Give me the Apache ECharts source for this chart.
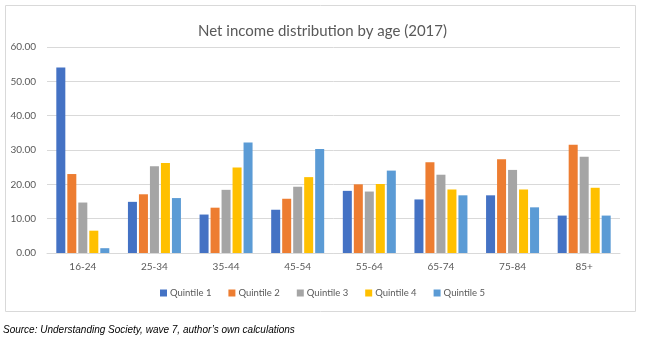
<!DOCTYPE html>
<html><head><meta charset="utf-8">
<script src="https://cdn.jsdelivr.net/npm/echarts@6/dist/echarts.min.js"></script>
<style>html,body{margin:0;padding:0;background:#fff}#c{width:645px;height:343px}</style>
</head><body><div id="c"></div>
<script>
const categories = ['16-24','25-34','35-44','45-54','55-64','65-74','75-84','85+'];
const quintile1 = [54.0, 14.9, 11.2, 12.6, 18.1, 15.6, 16.8, 10.9];
const quintile2 = [23.0, 17.1, 13.2, 15.8, 20.0, 26.4, 27.3, 31.5];
const quintile3 = [14.7, 25.3, 18.4, 19.3, 17.9, 22.8, 24.2, 28.0];
const quintile4 = [6.5, 26.2, 24.9, 22.1, 20.1, 18.5, 18.5, 19.0];
const quintile5 = [1.4, 16.0, 32.2, 30.3, 24.0, 16.8, 13.3, 10.9];
const seriesNames = ['Quintile 1','Quintile 2','Quintile 3','Quintile 4','Quintile 5'];
const seriesData = [quintile1, quintile2, quintile3, quintile4, quintile5];
const colors = ['#4472C4','#ED7D31','#A5A5A5','#FFC000','#5B9BD5'];
const titleText = 'Net income distribution by age (2017)';
const sourceText = 'Source: Understanding Society, wave 7, author\u2019s own calculations';

const FONT = 'Lato';
const chart = echarts.init(document.getElementById('c'));
chart.setOption({
  animation: false,
  color: colors,
  title: {
    text: titleText, left: 'center', top: 19,
    textStyle: {fontFamily: FONT, fontSize: 15, fontWeight: 'normal', color: '#595959'}
  },
  graphic: [
    {type: 'rect', left: 3, top: 3, shape: {width: 630, height: 306},
     style: {fill: 'none', stroke: '#D9D9D9', lineWidth: 1}, z: -1},
    {type: 'text', left: 3, top: 325,
     style: {text: sourceText, font: 'italic 10px "Liberation Sans"', fill: '#000'}}
  ],
  legend: {
    bottom: 40, left: 'center', itemWidth: 7, itemHeight: 7, itemGap: 17,
    icon: 'rect',
    textStyle: {fontFamily: FONT, fontSize: 9.5, color: '#595959', padding: [0, 0, 0, -2]},
    data: seriesNames
  },
  grid: {left: 47, right: 25, top: 47, bottom: 90},
  xAxis: {
    type: 'category', data: categories,
    axisLine: {lineStyle: {color: '#D9D9D9'}},
    axisTick: {show: false},
    axisLabel: {fontFamily: FONT, fontSize: 10, color: '#595959', margin: 9}
  },
  yAxis: {
    type: 'value', min: 0, max: 60, interval: 10,
    axisLine: {show: false}, axisTick: {show: false},
    splitLine: {lineStyle: {color: '#D9D9D9'}},
    axisLabel: {fontFamily: FONT, fontSize: 10, color: '#595959', margin: 11,
      formatter: v => v.toFixed(2)}
  },
  series: seriesData.map((d, i) => ({
    name: seriesNames[i], type: 'bar', data: d,
    barGap: '22%', barCategoryGap: '26%'
  }))
});
</script></body></html>
